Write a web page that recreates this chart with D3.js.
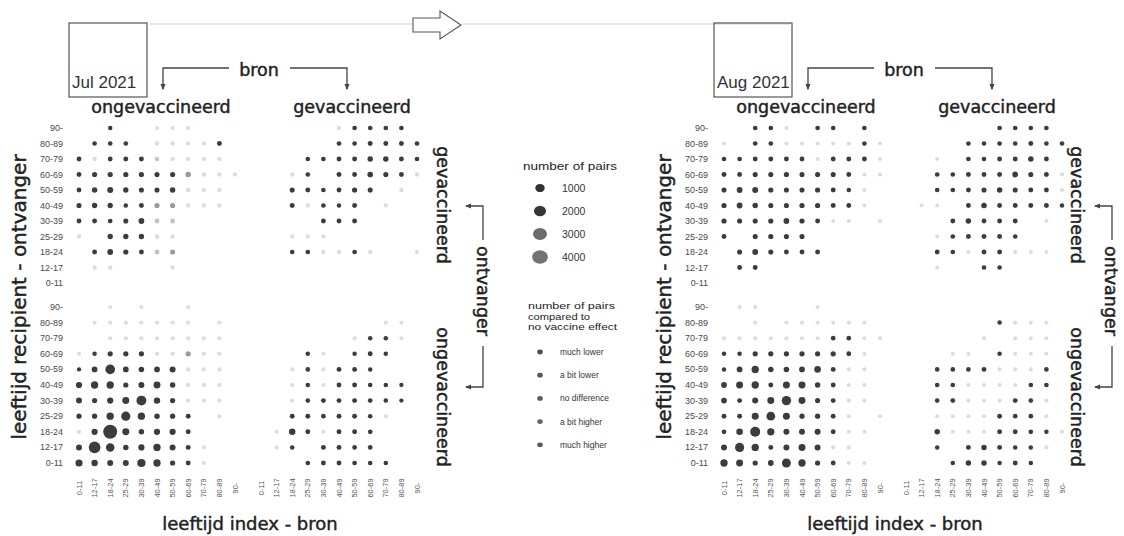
<!DOCTYPE html>
<html>
<head>
<meta charset="utf-8">
<script src="https://cdn.jsdelivr.net/npm/d3@7"></script>
<style>
  body { margin: 0; background: #fff; }
  svg { display: block; }
  text { font-family: "DejaVu Sans", sans-serif; fill: #222; }
  .heavy { stroke: #222; stroke-width: 0.45px; }
</style>
</head>
<body>
<svg id="chart" width="1124" height="536"></svg>
<script>
// leeftijdsgroepen (kolommen: bron, rijen: ontvanger)
const ages = ["0-11", "12-17", "18-24", "25-29", "30-39", "40-49", "50-59", "60-69", "70-79", "80-89", "90-"];
const rowAges = ages.slice().reverse(); // rijen van boven (90-) naar onder (0-11)

const months = ["Jul 2021", "Aug 2021"];
const sourceGroups = ["ongevaccineerd", "gevaccineerd"];
const recipientGroups = ["gevaccineerd", "ongevaccineerd"];

const sizeBreaks = [1000, 2000, 3000, 4000];
const effectLevels = ["much lower", "a bit lower", "no difference", "a bit higher", "much higher"];

// aantal paren per cel; rijen 90- .. 0-11, kolommen 0-11 .. 90-
const julVacFromUnvac = [
  [0, 0, 100, 0, 0, 60, 60, 60, 0, 0, 0],
  [0, 120, 120, 120, 0, 80, 80, 80, 80, 150, 0],
  [150, 80, 150, 150, 150, 100, 80, 80, 80, 80, 0],
  [150, 180, 200, 200, 200, 180, 180, 250, 100, 80, 80],
  [150, 250, 350, 220, 180, 180, 250, 100, 80, 80, 0],
  [180, 220, 220, 100, 150, 200, 200, 80, 80, 80, 0],
  [150, 150, 120, 180, 300, 150, 150, 0, 0, 0, 0],
  [80, 0, 220, 220, 220, 100, 100, 0, 0, 0, 0],
  [0, 150, 300, 200, 150, 150, 180, 0, 0, 0, 0],
  [0, 80, 80, 0, 0, 0, 80, 0, 0, 0, 0],
  [0, 0, 0, 0, 0, 0, 0, 0, 0, 0, 0]
];
const julVacFromUnvacEffect = [
  [0, 0, 4, 0, 0, 0, 0, 0, 0, 0, 0],
  [0, 4, 4, 4, 0, 0, 0, 0, 0, 4, 0],
  [4, 0, 4, 4, 4, 1, 0, 0, 0, 0, 0],
  [4, 4, 4, 4, 4, 4, 4, 2, 0, 0, 0],
  [4, 4, 4, 4, 4, 4, 4, 0, 0, 0, 0],
  [4, 4, 4, 4, 4, 2, 2, 0, 0, 0, 0],
  [4, 4, 4, 4, 4, 1, 1, 0, 0, 0, 0],
  [0, 0, 4, 4, 4, 0, 0, 0, 0, 0, 0],
  [0, 4, 4, 4, 4, 1, 2, 0, 0, 0, 0],
  [0, 0, 0, 0, 0, 0, 0, 0, 0, 0, 0],
  [0, 0, 0, 0, 0, 0, 0, 0, 0, 0, 0]
];

const julVacFromVac = [
  [0, 0, 0, 0, 0, 80, 120, 120, 120, 120, 0],
  [0, 0, 0, 0, 0, 120, 120, 150, 150, 150, 120],
  [0, 0, 0, 100, 120, 150, 150, 250, 250, 150, 120],
  [0, 0, 80, 120, 0, 150, 150, 280, 180, 150, 80],
  [0, 0, 180, 150, 120, 150, 200, 180, 0, 80, 0],
  [0, 0, 150, 80, 120, 100, 150, 0, 80, 0, 0],
  [0, 0, 0, 0, 150, 150, 150, 0, 0, 0, 0],
  [0, 0, 80, 80, 80, 0, 0, 0, 0, 0, 0],
  [0, 0, 120, 120, 80, 80, 120, 80, 0, 0, 60],
  [0, 0, 0, 0, 0, 0, 0, 0, 0, 0, 0],
  [0, 0, 0, 0, 0, 0, 0, 0, 0, 0, 0]
];
const julVacFromVacEffect = [
  [0, 0, 0, 0, 0, 0, 4, 4, 4, 4, 0],
  [0, 0, 0, 0, 0, 4, 4, 4, 4, 4, 4],
  [0, 0, 0, 4, 4, 4, 4, 4, 4, 4, 4],
  [0, 0, 0, 4, 0, 4, 4, 4, 4, 4, 0],
  [0, 0, 4, 4, 4, 4, 4, 4, 0, 0, 0],
  [0, 0, 4, 0, 4, 4, 4, 0, 0, 0, 0],
  [0, 0, 0, 0, 4, 4, 4, 0, 0, 0, 0],
  [0, 0, 0, 0, 0, 0, 0, 0, 0, 0, 0],
  [0, 0, 4, 4, 0, 0, 4, 0, 0, 0, 0],
  [0, 0, 0, 0, 0, 0, 0, 0, 0, 0, 0],
  [0, 0, 0, 0, 0, 0, 0, 0, 0, 0, 0]
];

const julUnvacFromUnvac = [
  [0, 0, 60, 0, 60, 0, 0, 60, 0, 0, 0],
  [0, 60, 60, 60, 60, 60, 60, 60, 0, 60, 0],
  [0, 0, 60, 60, 60, 60, 60, 60, 60, 60, 0],
  [60, 100, 200, 200, 200, 80, 80, 200, 80, 80, 0],
  [80, 300, 1600, 300, 250, 300, 350, 80, 80, 80, 0],
  [400, 700, 700, 200, 350, 600, 250, 80, 80, 80, 0],
  [350, 200, 400, 600, 1700, 450, 200, 80, 80, 80, 0],
  [200, 200, 700, 1400, 700, 250, 200, 150, 0, 60, 0],
  [80, 400, 4300, 600, 250, 400, 400, 150, 0, 0, 0],
  [350, 2700, 1100, 250, 400, 700, 350, 150, 60, 0, 0],
  [650, 450, 350, 350, 1000, 700, 200, 150, 60, 0, 0]
];
const julUnvacFromUnvacEffect = [
  [0, 0, 0, 0, 0, 0, 0, 0, 0, 0, 0],
  [0, 0, 0, 0, 0, 0, 0, 0, 0, 0, 0],
  [0, 0, 0, 0, 0, 0, 0, 0, 0, 0, 0],
  [0, 4, 4, 4, 4, 0, 0, 2, 0, 0, 0],
  [4, 4, 4, 4, 4, 4, 4, 0, 0, 0, 0],
  [4, 4, 4, 4, 4, 4, 4, 0, 0, 0, 0],
  [4, 4, 4, 4, 4, 4, 4, 0, 0, 0, 0],
  [4, 4, 4, 4, 4, 4, 4, 4, 0, 0, 0],
  [0, 4, 4, 4, 4, 4, 4, 4, 0, 0, 0],
  [4, 4, 4, 4, 4, 4, 4, 4, 0, 0, 0],
  [4, 4, 4, 4, 4, 4, 4, 4, 0, 0, 0]
];

const julUnvacFromVac = [
  [0, 0, 0, 0, 0, 0, 0, 0, 0, 0, 0],
  [0, 0, 0, 0, 0, 0, 0, 0, 60, 60, 0],
  [0, 0, 0, 0, 0, 0, 60, 100, 100, 60, 0],
  [0, 0, 0, 100, 60, 0, 100, 150, 100, 0, 0],
  [0, 0, 60, 120, 60, 150, 150, 100, 0, 0, 0],
  [0, 0, 60, 100, 60, 150, 150, 120, 100, 80, 0],
  [0, 0, 60, 120, 150, 150, 150, 120, 100, 80, 0],
  [0, 0, 150, 150, 120, 150, 150, 100, 60, 0, 0],
  [0, 60, 450, 150, 60, 150, 150, 120, 0, 0, 0],
  [0, 60, 100, 0, 150, 150, 120, 120, 0, 0, 0],
  [0, 0, 0, 120, 150, 150, 120, 120, 100, 0, 0]
];
const julUnvacFromVacEffect = [
  [0, 0, 0, 0, 0, 0, 0, 0, 0, 0, 0],
  [0, 0, 0, 0, 0, 0, 0, 0, 0, 0, 0],
  [0, 0, 0, 0, 0, 0, 0, 4, 4, 0, 0],
  [0, 0, 0, 4, 0, 0, 4, 4, 4, 0, 0],
  [0, 0, 0, 4, 0, 4, 4, 4, 0, 0, 0],
  [0, 0, 0, 4, 0, 4, 4, 4, 4, 4, 0],
  [0, 0, 0, 4, 4, 4, 4, 4, 4, 4, 0],
  [0, 0, 4, 4, 4, 4, 4, 4, 0, 0, 0],
  [0, 0, 4, 4, 0, 4, 4, 4, 0, 0, 0],
  [0, 0, 4, 0, 4, 4, 4, 4, 0, 0, 0],
  [0, 0, 0, 4, 4, 4, 4, 4, 4, 0, 0]
];

const augVacFromUnvac = [
  [0, 0, 120, 120, 60, 0, 120, 120, 0, 120, 0],
  [60, 0, 120, 120, 60, 60, 60, 60, 60, 120, 60],
  [120, 120, 150, 150, 150, 150, 60, 150, 150, 150, 60],
  [150, 150, 180, 180, 200, 180, 180, 180, 150, 60, 60],
  [180, 300, 350, 200, 180, 180, 200, 150, 100, 60, 0],
  [200, 300, 250, 180, 180, 200, 200, 150, 150, 60, 0],
  [200, 180, 180, 200, 300, 200, 150, 60, 60, 0, 60],
  [150, 0, 180, 200, 180, 180, 0, 0, 0, 0, 0],
  [0, 180, 300, 180, 150, 150, 150, 0, 0, 0, 0],
  [0, 150, 150, 0, 0, 0, 0, 0, 0, 0, 0],
  [0, 0, 0, 0, 0, 0, 0, 0, 0, 0, 0]
];
const augVacFromUnvacEffect = [
  [0, 0, 4, 4, 0, 0, 4, 4, 0, 4, 0],
  [0, 0, 4, 4, 0, 0, 0, 0, 0, 4, 0],
  [4, 4, 4, 4, 4, 4, 0, 4, 4, 4, 0],
  [4, 4, 4, 4, 4, 4, 4, 4, 4, 0, 0],
  [4, 4, 4, 4, 4, 4, 4, 4, 4, 0, 0],
  [4, 4, 4, 4, 4, 4, 4, 4, 4, 0, 0],
  [4, 4, 4, 4, 4, 4, 4, 0, 0, 0, 0],
  [4, 0, 4, 4, 4, 4, 0, 0, 0, 0, 0],
  [0, 4, 4, 4, 4, 4, 4, 0, 0, 0, 0],
  [0, 4, 4, 0, 0, 0, 0, 0, 0, 0, 0],
  [0, 0, 0, 0, 0, 0, 0, 0, 0, 0, 0]
];

const augVacFromVac = [
  [0, 0, 0, 0, 0, 0, 120, 120, 120, 120, 0],
  [0, 0, 0, 0, 120, 120, 120, 120, 150, 120, 120],
  [0, 0, 60, 0, 120, 120, 150, 150, 250, 150, 0],
  [0, 0, 120, 120, 150, 150, 150, 300, 180, 150, 60],
  [0, 0, 120, 120, 150, 180, 250, 180, 150, 150, 60],
  [0, 60, 60, 0, 150, 250, 150, 150, 150, 150, 100],
  [0, 0, 0, 150, 250, 150, 150, 150, 0, 60, 0],
  [0, 0, 60, 120, 150, 150, 150, 120, 0, 0, 0],
  [0, 0, 150, 120, 60, 150, 150, 60, 60, 60, 0],
  [0, 0, 60, 0, 0, 120, 120, 0, 0, 0, 0],
  [0, 0, 0, 0, 0, 0, 0, 0, 0, 0, 0]
];
const augVacFromVacEffect = [
  [0, 0, 0, 0, 0, 0, 4, 4, 4, 4, 0],
  [0, 0, 0, 0, 4, 4, 4, 4, 4, 4, 4],
  [0, 0, 0, 0, 4, 4, 4, 4, 4, 4, 0],
  [0, 0, 4, 4, 4, 4, 4, 4, 4, 4, 0],
  [0, 0, 4, 4, 4, 4, 4, 4, 4, 4, 0],
  [0, 0, 0, 0, 4, 4, 4, 4, 4, 4, 4],
  [0, 0, 0, 4, 4, 4, 4, 4, 0, 0, 0],
  [0, 0, 0, 4, 4, 4, 4, 4, 0, 0, 0],
  [0, 0, 4, 4, 0, 4, 4, 0, 0, 0, 0],
  [0, 0, 0, 0, 0, 4, 4, 0, 0, 0, 0],
  [0, 0, 0, 0, 0, 0, 0, 0, 0, 0, 0]
];

const augUnvacFromUnvac = [
  [0, 60, 60, 0, 0, 0, 60, 0, 0, 0, 0],
  [0, 0, 60, 0, 60, 60, 60, 60, 60, 60, 0],
  [60, 60, 60, 60, 60, 60, 60, 120, 120, 60, 60],
  [100, 100, 200, 200, 200, 200, 200, 200, 150, 60, 0],
  [100, 300, 700, 250, 250, 300, 500, 150, 60, 60, 0],
  [300, 600, 700, 150, 600, 600, 250, 150, 60, 60, 0],
  [300, 150, 350, 600, 1500, 600, 200, 150, 60, 60, 0],
  [150, 150, 600, 1200, 600, 200, 200, 150, 60, 0, 60],
  [120, 500, 1800, 700, 350, 350, 350, 150, 60, 60, 0],
  [350, 1400, 700, 150, 350, 600, 350, 60, 60, 0, 0],
  [700, 600, 200, 300, 1300, 700, 200, 150, 60, 60, 0]
];
const augUnvacFromUnvacEffect = [
  [0, 0, 0, 0, 0, 0, 0, 0, 0, 0, 0],
  [0, 0, 0, 0, 0, 0, 0, 0, 0, 0, 0],
  [0, 0, 0, 0, 0, 0, 0, 4, 4, 0, 0],
  [4, 4, 4, 4, 4, 4, 4, 4, 4, 0, 0],
  [4, 4, 4, 4, 4, 4, 4, 4, 0, 0, 0],
  [4, 4, 4, 4, 4, 4, 4, 4, 0, 0, 0],
  [4, 4, 4, 4, 4, 4, 4, 4, 0, 0, 0],
  [4, 4, 4, 4, 4, 4, 4, 4, 0, 0, 0],
  [4, 4, 4, 4, 4, 4, 4, 4, 0, 0, 0],
  [4, 4, 4, 4, 4, 4, 4, 0, 0, 0, 0],
  [4, 4, 4, 4, 4, 4, 4, 4, 0, 0, 0]
];

const augUnvacFromVac = [
  [0, 0, 0, 0, 0, 0, 0, 0, 0, 0, 0],
  [0, 0, 0, 0, 0, 0, 100, 60, 60, 60, 0],
  [0, 0, 0, 0, 0, 60, 0, 60, 60, 60, 0],
  [0, 0, 0, 60, 60, 0, 100, 60, 60, 60, 0],
  [0, 0, 120, 120, 120, 150, 60, 60, 60, 120, 0],
  [0, 0, 120, 120, 60, 60, 60, 60, 120, 120, 0],
  [0, 0, 120, 150, 60, 60, 60, 150, 120, 60, 0],
  [0, 0, 60, 60, 60, 60, 150, 120, 120, 60, 0],
  [0, 0, 250, 60, 60, 60, 150, 150, 120, 100, 60],
  [0, 0, 100, 0, 150, 250, 150, 100, 100, 60, 0],
  [0, 0, 0, 100, 250, 250, 100, 150, 100, 0, 0]
];
const augUnvacFromVacEffect = [
  [0, 0, 0, 0, 0, 0, 0, 0, 0, 0, 0],
  [0, 0, 0, 0, 0, 0, 4, 0, 0, 0, 0],
  [0, 0, 0, 0, 0, 0, 0, 0, 0, 0, 0],
  [0, 0, 0, 0, 0, 0, 4, 0, 0, 0, 0],
  [0, 0, 4, 4, 4, 4, 0, 0, 0, 4, 0],
  [0, 0, 4, 4, 0, 0, 0, 0, 4, 4, 0],
  [0, 0, 4, 4, 0, 0, 0, 4, 4, 0, 0],
  [0, 0, 0, 0, 0, 0, 4, 4, 4, 0, 0],
  [0, 0, 4, 0, 0, 0, 4, 4, 4, 4, 0],
  [0, 0, 4, 0, 4, 4, 4, 4, 4, 0, 0],
  [0, 0, 0, 4, 4, 4, 4, 4, 4, 0, 0]
];

const blocks = [
  { month: 0, rec: 0, src: 0, n: julVacFromUnvac, eff: julVacFromUnvacEffect },
  { month: 0, rec: 0, src: 1, n: julVacFromVac, eff: julVacFromVacEffect },
  { month: 0, rec: 1, src: 0, n: julUnvacFromUnvac, eff: julUnvacFromUnvacEffect },
  { month: 0, rec: 1, src: 1, n: julUnvacFromVac, eff: julUnvacFromVacEffect },
  { month: 1, rec: 0, src: 0, n: augVacFromUnvac, eff: augVacFromUnvacEffect },
  { month: 1, rec: 0, src: 1, n: augVacFromVac, eff: augVacFromVacEffect },
  { month: 1, rec: 1, src: 0, n: augUnvacFromUnvac, eff: augUnvacFromUnvacEffect },
  { month: 1, rec: 1, src: 1, n: augUnvacFromVac, eff: augUnvacFromVacEffect }
];

// ---------- layout ----------
const svg = d3.select('#chart');
const panelShift = [0, 645];   // roosters
const stripShift = [0, 634];   // labels rechts
const ontvangerX = [477, 1105]; // rechts in aug net binnen beeld
const bracketX = [483, 1112];

const xScales = [
  d3.scalePoint().domain(ages).range([79, 235]),
  d3.scalePoint().domain(ages).range([261, 417])
];
const yScales = [
  d3.scalePoint().domain(rowAges).range([128, 283]),
  d3.scalePoint().domain(rowAges).range([307, 463])
];

const rScale = d3.scaleSqrt().domain([0, 4000]).range([1.4, 6.8]);
const effectColors = ['#dcdcdc', '#c2c2c2', '#9a9a9a', '#5c5c5c', '#3c3c3c'];
const ink = '#444';

// tijdlijn bovenaan
const timeline = svg.append('g');
timeline.append('line').attr('x1', 150).attr('x2', 412).attr('y1', 24).attr('y2', 24)
  .attr('stroke', '#e6e6e6').attr('stroke-width', 2);
timeline.append('line').attr('x1', 463).attr('x2', 790).attr('y1', 24).attr('y2', 24)
  .attr('stroke', '#e6e6e6').attr('stroke-width', 2);
timeline.append('path')
  .attr('d', 'M413,18 L440,18 L440,11 L461,25 L440,39 L440,32 L413,32 Z')
  .attr('fill', '#fff').attr('stroke', '#555').attr('stroke-width', 1.1);

// pijlpunt
svg.append('defs').append('marker')
  .attr('id', 'head').attr('viewBox', '0 0 10 10')
  .attr('refX', 8).attr('refY', 5)
  .attr('markerWidth', 5).attr('markerHeight', 5)
  .attr('orient', 'auto')
  .append('path').attr('d', 'M0,1 L10,5 L0,9 Z').attr('fill', ink);

months.forEach((month, m) => {
  const dx = panelShift[m];
  const sx = stripShift[m];
  const g = svg.append('g').attr('transform', `translate(${dx},0)`);

  // maand-kader
  g.append('rect').attr('x', 69).attr('y', 23).attr('width', 78).attr('height', 74)
    .attr('fill', 'none').attr('stroke', '#555').attr('stroke-width', 1.2);
  g.append('text').attr('x', 72).attr('y', 88)
    .style('font-family', '"Liberation Sans", Arial, sans-serif')
    .style('font-size', '17px').style('fill', '#333')
    .text(month);

  // "bron" met pijlen
  g.append('text').attr('class', 'heavy').attr('x', 259).attr('y', 76).attr('text-anchor', 'middle')
    .style('font-size', '17.5px').text('bron');
  g.append('path').attr('d', 'M229,68 H163 V89')
    .attr('fill', 'none').attr('stroke', ink).attr('stroke-width', 1.3)
    .attr('marker-end', 'url(#head)');
  g.append('path').attr('d', 'M290,68 H347 V89')
    .attr('fill', 'none').attr('stroke', ink).attr('stroke-width', 1.3)
    .attr('marker-end', 'url(#head)');

  // kolomkoppen
  [161, 352].forEach((cx, i) => {
    g.append('text').attr('class', 'heavy').attr('x', cx).attr('y', 113).attr('text-anchor', 'middle')
      .style('font-size', '17.5px').text(sourceGroups[i]);
  });

  // y-as titel
  g.append('text').attr('class', 'heavy')
    .attr('transform', 'translate(26,297) rotate(-90)')
    .attr('text-anchor', 'middle')
    .style('font-size', '20px')
    .text('leeftijd recipient - ontvanger');

  // x-as titel
  g.append('text').attr('class', 'heavy').attr('x', 250).attr('y', 530).attr('text-anchor', 'middle')
    .style('font-size', '18px')
    .text('leeftijd index - bron');

  // y tick labels
  yScales.forEach(ys => {
    g.selectAll(null).data(rowAges).join('text')
      .attr('x', 63).attr('y', d => ys(d) + 3)
      .attr('text-anchor', 'end')
      .style('font-family', '"Liberation Sans", Arial, sans-serif')
      .style('font-size', '9px').style('fill', '#4a4a4a')
      .text(d => d);
  });

  // x tick labels (verticaal)
  xScales.forEach(xs => {
    g.selectAll(null).data(ages).join('text')
      .attr('transform', d => `translate(${xs(d) + 2.5},488) rotate(-90)`)
      .attr('text-anchor', 'middle')
      .style('font-family', '"Liberation Sans", Arial, sans-serif')
      .style('font-size', '7.5px').style('fill', '#555')
      .text(d => d);
  });

  // stippen
  blocks.filter(b => b.month === m).forEach(b => {
    const xs = xScales[b.src];
    const ys = yScales[b.rec];
    const cells = [];
    b.n.forEach((row, r) => row.forEach((n, c) => {
      if (n > 0) cells.push({ age: ages[c], row: rowAges[r], n, e: b.eff[r][c] });
    }));
    g.append('g').selectAll('circle').data(cells).join('circle')
      .attr('cx', d => xs(d.age))
      .attr('cy', d => ys(d.row))
      .attr('r', d => rScale(d.n))
      .attr('fill', d => effectColors[d.e]);
  });

  // ontvanger-labels rechts
  const s = svg.append('g').attr('transform', `translate(${sx},0)`);
  [205, 397].forEach((cy, i) => {
    s.append('text').attr('class', 'heavy').attr('transform', `translate(437,${cy}) rotate(90)`)
      .attr('text-anchor', 'middle')
      .style('font-size', '17.5px')
      .text(recipientGroups[i]);
  });

  const bx = bracketX[m];
  svg.append('text').attr('class', 'heavy')
    .attr('transform', `translate(${ontvangerX[m]},291) rotate(90)`)
    .attr('text-anchor', 'middle')
    .style('font-size', '17.5px')
    .text('ontvanger');
  svg.append('path').attr('d', `M${bx},240 V206 H${bx - 17}`)
    .attr('fill', 'none').attr('stroke', ink).attr('stroke-width', 1.3)
    .attr('marker-end', 'url(#head)');
  svg.append('path').attr('d', `M${bx},346 V387 H${bx - 17}`)
    .attr('fill', 'none').attr('stroke', ink).attr('stroke-width', 1.3)
    .attr('marker-end', 'url(#head)');
});

// ---------- legenda ----------
const lg = svg.append('g');
const legendFont = '"Liberation Sans", Arial, sans-serif';
lg.append('text').attr('x', 523).attr('y', 170)
  .attr('textLength', 94).attr('lengthAdjust', 'spacingAndGlyphs')
  .style('font-family', legendFont).style('font-size', '10px')
  .text('number of pairs');

const sizeFill = ['#333', '#363636', '#6c6c6c', '#737373'];
sizeBreaks.forEach((v, i) => {
  const cy = 188 + i * 23;
  lg.append('ellipse').attr('cx', 540).attr('cy', cy)
    .attr('rx', rScale(v) * 1.15).attr('ry', rScale(v))
    .attr('fill', sizeFill[i]);
  lg.append('text').attr('x', 562).attr('y', cy + 4)
    .style('font-family', legendFont).style('font-size', '10.5px').style('fill', '#333')
    .text(v);
});

[['number of pairs', 87], ['compared to', 62], ['no vaccine effect', 89]].forEach(([t, w], i) => {
  lg.append('text').attr('x', 528).attr('y', 309 + i * 10.5)
    .attr('textLength', w).attr('lengthAdjust', 'spacingAndGlyphs')
    .style('font-family', legendFont).style('font-size', '9.5px')
    .text(t);
});

const effectLegendFill = ['#4e4e4e', '#575757', '#5f5f5f', '#676767', '#5a5a5a'];
effectLevels.forEach((t, i) => {
  const cy = 352 + i * 23.2;
  lg.append('ellipse').attr('cx', 540).attr('cy', cy).attr('rx', 2.8).attr('ry', 2.4)
    .attr('fill', effectLegendFill[i]);
  lg.append('text').attr('x', 560).attr('y', cy + 3)
    .style('font-family', legendFont).style('font-size', '8.5px').style('fill', '#333')
    .text(t);
});
</script>
</body>
</html>
